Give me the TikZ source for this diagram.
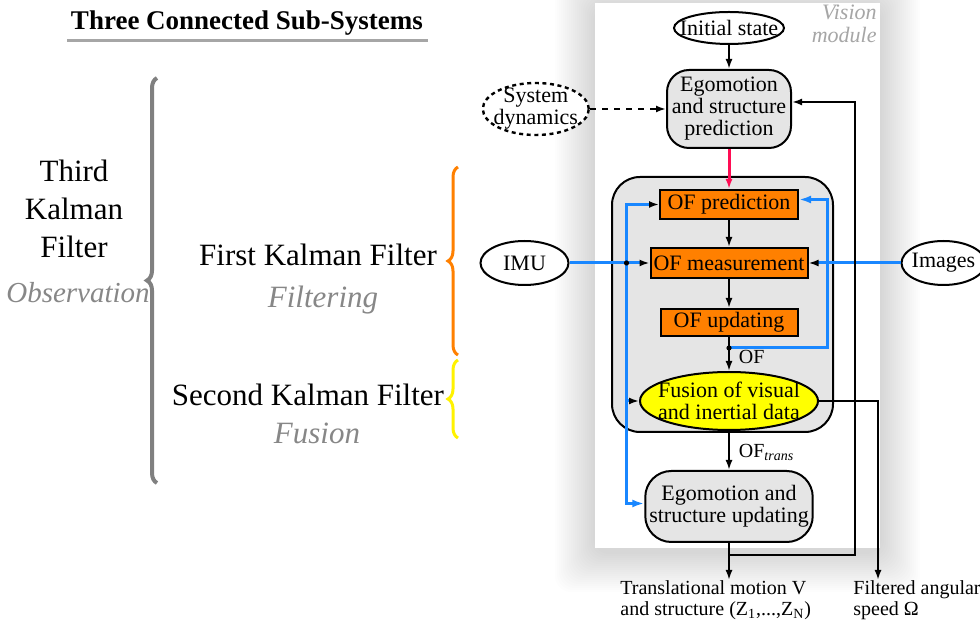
\documentclass[tikz,border=0pt]{standalone}
\usepackage{fontspec}
\setmainfont{Liberation Serif}
\usepackage{tikz}
\usetikzlibrary{positioning,shapes,arrows.meta,decorations.pathreplacing,calc}
\definecolor{ofgray}{rgb}{0.9,0.9,0.9}
\definecolor{oforange}{rgb}{1.0,0.5,0.0}
\definecolor{fuyellow}{rgb}{1.0,1.0,0.0}
\definecolor{imublue}{rgb}{0.1,0.53,1.0}
\definecolor{predred}{rgb}{1.0,0.05,0.33}
\definecolor{notegray}{rgb}{0.53,0.53,0.53}
\definecolor{bracegray}{rgb}{0.5,0.5,0.5}
\tikzstyle{oval}=[%
      ellipse, draw=black, line width=1pt, fill=white,
      inner xsep=-6pt, inner ysep=-1.5pt, align=center, font=\fontsize{11}{11}\selectfont
]
\tikzstyle{egobox}=[%
      rectangle, rounded corners=11pt, draw=black, line width=1pt, fill=ofgray,
      inner sep=2pt, align=center, font=\fontsize{11}{11}\selectfont
]
\tikzstyle{ofbox}=[%
      rectangle, draw=black, line width=1pt, fill=oforange,
      inner sep=1pt, font=\fontsize{11}{11}\selectfont
]
\tikzstyle{wire}=[line width=1.2pt, -{Latex[length=5pt,width=3.5pt]}]
\tikzstyle{bluewire}=[draw=imublue, line width=1.5pt, -{Latex[length=5pt,width=3.5pt,color=black]}]
\tikzstyle{bluetip}=[-{Latex[length=6pt,width=4pt,color=imublue]}]
\tikzstyle{kfbrace}=[decorate, decoration={brace, amplitude=5pt}, line width=2pt]
\tikzstyle{kftitle}=[font=\fontsize{15.5}{19}\selectfont, align=center]
\tikzstyle{kfnote}=[font=\fontsize{15.5}{16}\selectfont\itshape, text=notegray]

\begin{document}
\begin{tikzpicture}[x=0.5pt, y=-0.5pt]
    \useasboundingbox (0,0) rectangle (980,624);

    % title
    \node[font=\fontsize{13.5}{14}\selectfont\bfseries, anchor=base] (title) at (247,30) {Three Connected Sub-Systems};
    \draw[line width=1.5pt, gray!70] (67,41) -- (428,41);

    % left side: the three filters
    \node[kftitle]   (thirdkf)  at (74,209)  {Third\\Kalman\\Filter};
    \node[kfnote, font=\fontsize{14.5}{15}\selectfont\itshape] (obs) at (78,293) {Observation};
    \node[kftitle]   (firstkf)  at (318,255) {First Kalman Filter};
    \node[kfnote]    (filt)     at (323,300) {Filtering};
    \node[kftitle]   (secondkf) at (308,395) {Second Kalman Filter};
    \node[kfnote]    (fus)      at (317,433) {Fusion};
    \draw[kfbrace, bracegray] (157,483) -- (157,78);
    \draw[kfbrace, oforange, line width=1.5pt] (458,355) -- (458,167);
    \draw[kfbrace, yellow, line width=1.5pt] (458,438) -- (458,360);

    % vision module panel with shadow
    \foreach \s in {2,4,...,40}
      \fill[black, opacity=0.008, rounded corners=8pt] ({595-\s},{7-\s}) rectangle ({880+\s},{552+\s});
    \fill[white] (595,3) rectangle (880,548);
    \node[font=\fontsize{11}{11.5}\selectfont\itshape, text=gray!70, align=right, anchor=north east, inner sep=0pt] (vismod) at (877,5) {Vision\\module};

    % first/second filter box
    \draw[line width=1pt, fill=ofgray, rounded corners=14pt] (612,177) rectangle (833,432);

    \node[oval, minimum width=55pt, minimum height=16pt]   (init)    at (729,28) {Initial state};
    \node[egobox, minimum width=62pt, minimum height=39pt] (egopred) [below = 12pt of init]    {Egomotion\\and structure\\prediction};
    \node[ofbox, minimum width=69pt, minimum height=14.5pt] (ofpred) [below = 20pt of egopred] {OF prediction};
    \node[ofbox, minimum width=78.5pt, minimum height=15pt] (ofmeas) [below = 13.5pt of ofpred] {OF measurement};
    \node[ofbox, minimum width=68.5pt, minimum height=13.5pt] (ofupd) [below = 14.5pt of ofmeas] {OF updating};
    \node[oval, fill=fuyellow, minimum width=89pt, minimum height=29pt] (fusion) [below = 17pt of ofupd] {Fusion of visual\\and inertial data};
    \node[egobox, rounded corners=13pt, minimum width=82pt, minimum height=35.5pt] (egoupd) [below = 19.5pt of fusion] {Egomotion and\\structure updating};

    \node[oval, dashed, dash pattern=on 2pt off 1.8pt, line width=1.2pt, minimum width=53pt, minimum height=26pt] (sysdyn) [left = 38pt of egopred] {System\\dynamics};
    \node[oval, minimum width=44pt, minimum height=22pt] (imu)    [left = 40pt of ofmeas]  {IMU};
    \node[oval, minimum width=42pt, minimum height=22pt] (images) [right = 46pt of ofmeas] {Images};

    \node[anchor=north west, align=left, inner sep=0pt, font=\fontsize{10}{10.5}\selectfont] (transout) at (620,580)
        {Translational motion V\\and structure (Z\textsubscript{1},...,Z\textsubscript{N})};
    \node[anchor=north west, align=left, inner sep=0pt, font=\fontsize{10}{10.5}\selectfont] (angout) at (853,580)
        {Filtered angular\\speed Ω};

    \coordinate (jn) at ([xshift=-11.5pt]ofmeas.west);
    \coordinate (fb) at ([yshift=-5.5pt]ofupd.south);
    \coordinate (br) at ([yshift=-6pt]egoupd.south);

    % main column
    \path[wire] (init) edge (egopred)
          (ofpred) edge (ofmeas)
          (ofmeas) edge (ofupd)
          (ofupd) edge node[right=1pt, pos=0.6, font=\fontsize{10}{10}\selectfont] {OF} (fusion)
          (fusion) edge node[right=1pt, pos=0.55, font=\fontsize{10}{10}\selectfont] {OF\textsubscript{\textit{trans}}} (egoupd)
    ;
    \draw[wire, predred, line width=1.5pt] (egopred) -- (ofpred);
    \draw[wire, dash pattern=on 3pt off 3pt] (sysdyn) -- (egopred);

    % sensor inputs
    \draw[bluewire] (imu) -- (ofmeas);
    \draw[bluewire] (images) -- (ofmeas);
    \draw[bluewire] (jn) |- (ofpred.west);
    \draw[bluewire] (jn) |- (fusion.west);
    \draw[bluewire, bluetip] (jn) |- ([yshift=1.5pt]egoupd.west);
    \draw[bluewire, bluetip] (fb) -- ++(49pt,0) |- ([yshift=2.5pt]ofpred.east);
    \fill (jn) circle (1.3pt);
    \fill (fb) circle (1.3pt);

    % outputs
    \draw[wire] (egoupd) -- (egoupd.south |- transout.north);
    \draw[wire] (br) -- ++(63pt,0) |- ([yshift=3.5pt]egopred.east);
    \draw[wire] (fusion.east) -| ([xshift=12.5pt]angout.north west);
\end{tikzpicture}
\end{document}
